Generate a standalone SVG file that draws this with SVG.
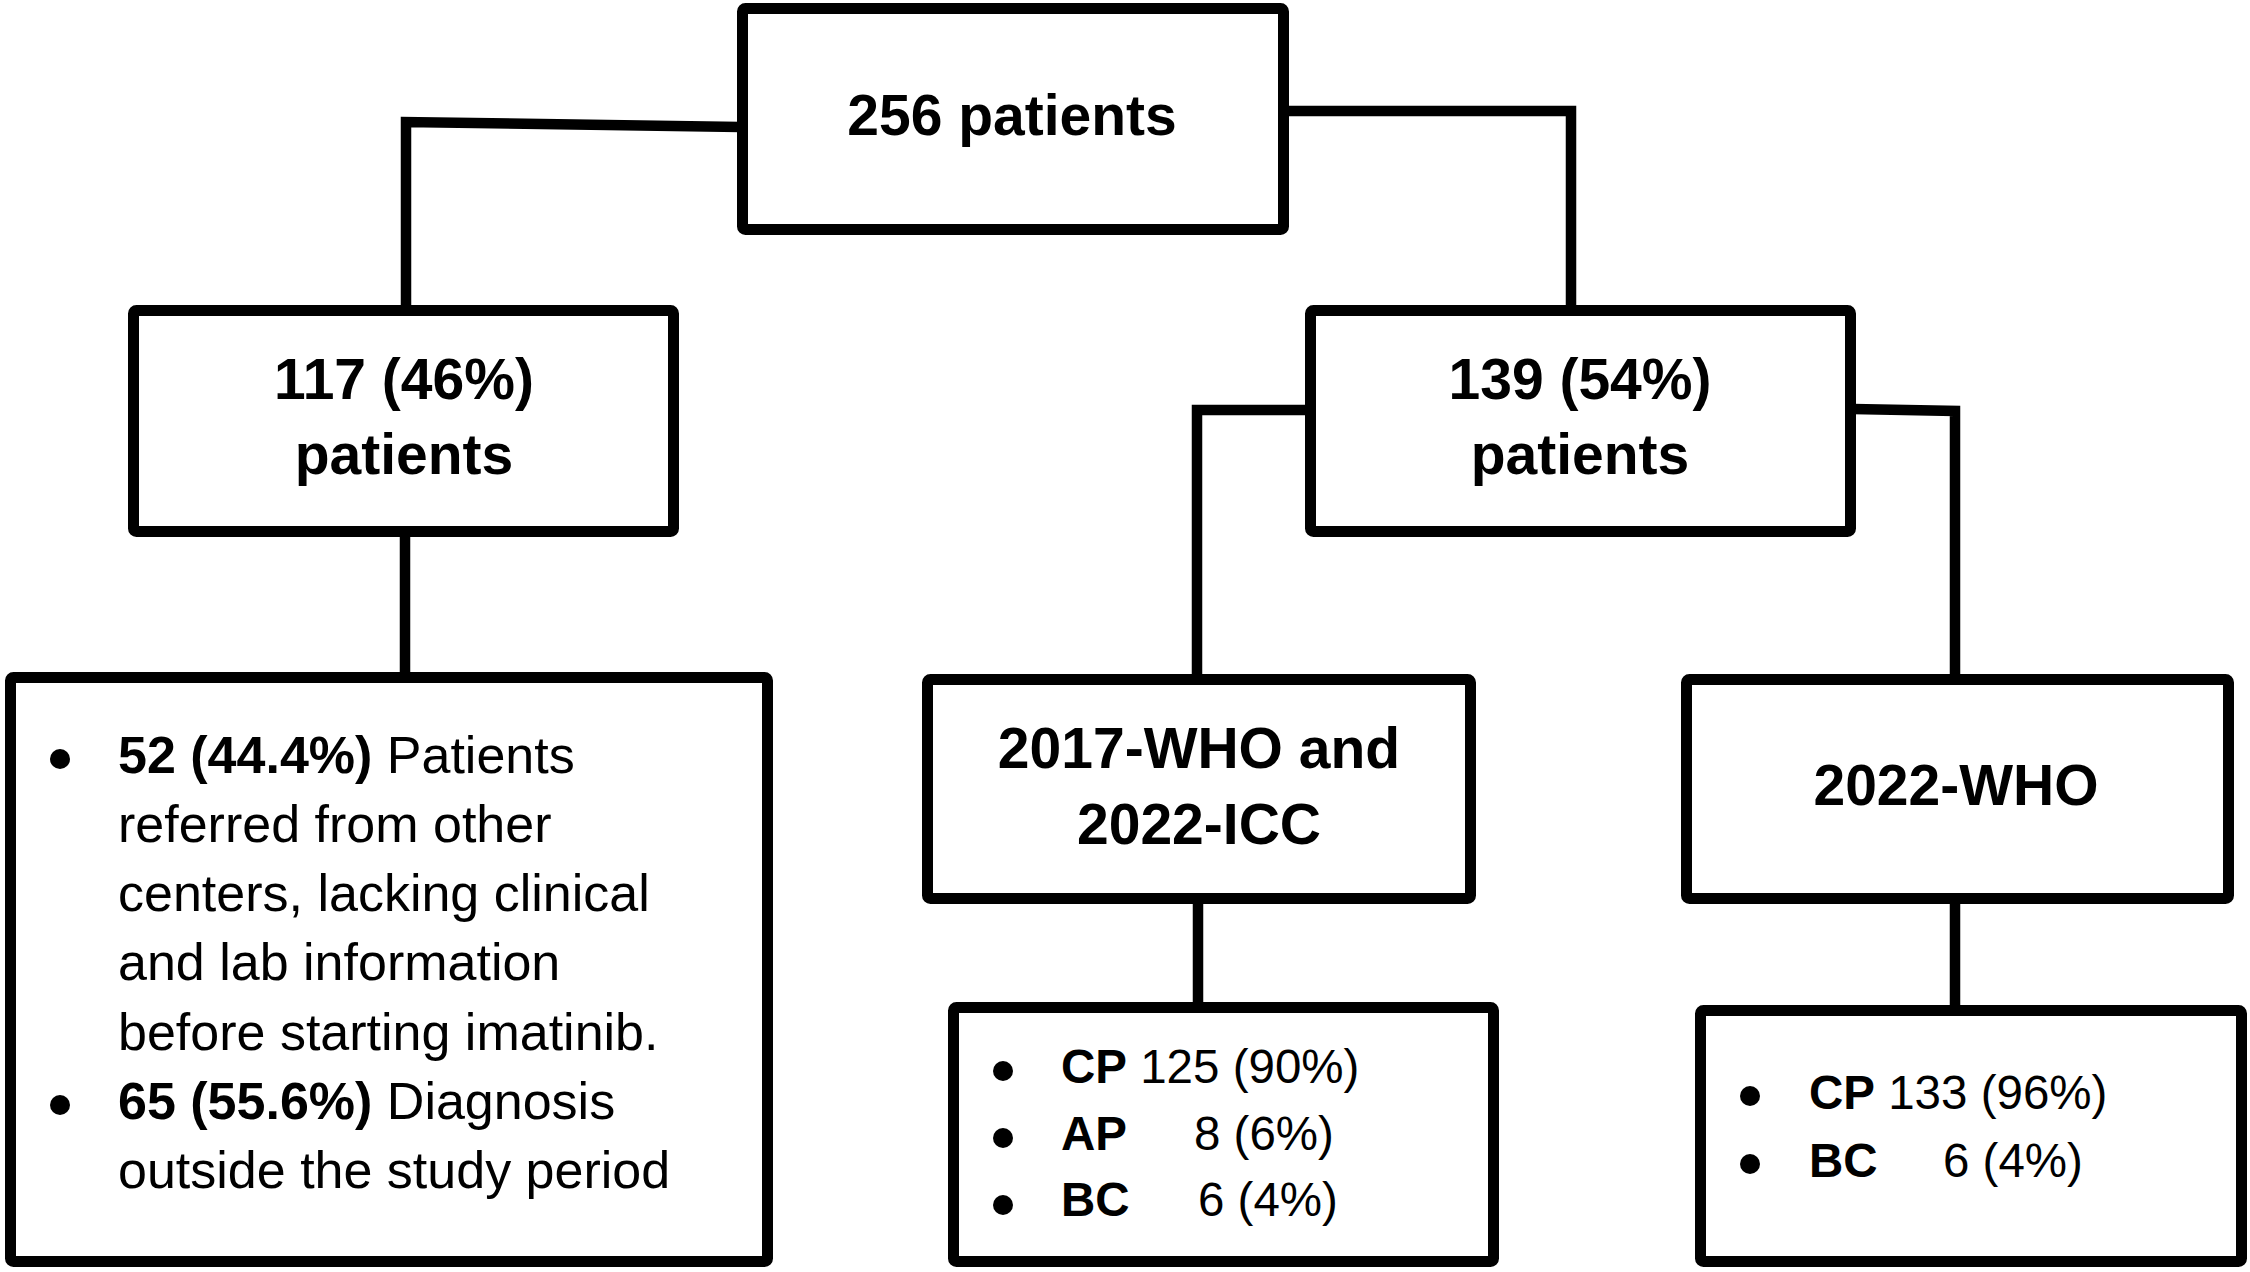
<svg xmlns="http://www.w3.org/2000/svg" width="2250" height="1272" viewBox="0 0 2250 1272">
<style>
.box{fill:#fff;stroke:#000;stroke-width:11;stroke-linejoin:round}
.ln{fill:none;stroke:#000;stroke-width:10.5;stroke-linejoin:miter;stroke-linecap:butt}
.h{font-family:"Liberation Sans",Arial,sans-serif;font-weight:bold;font-size:57px;text-anchor:middle;fill:#000}
.t{font-family:"Liberation Sans",Arial,sans-serif;font-size:52px;fill:#000}
.s{font-family:"Liberation Sans",Arial,sans-serif;font-size:47.5px;fill:#000}
.b{font-weight:bold}
.dot{fill:#000}
</style>
<rect width="2250" height="1272" fill="#fff"/>
<g id="connectors">
<path class="ln" d="M740,127 L406,122 L406,308"/>
<path class="ln" d="M1286,111 L1571,111 L1571,308"/>
<path class="ln" d="M405,534 L405,675"/>
<path class="ln" d="M1308,410 L1197,410 L1197,677"/>
<path class="ln" d="M1853,409 L1955,411 L1955,677"/>
<path class="ln" d="M1198,901 L1198,1005"/>
<path class="ln" d="M1955,901 L1955,1008"/>
</g>
<g id="n256">
<rect class="box" x="742.5" y="8.5" width="541" height="221" rx="3"/>
<text class="h" x="1012" y="135">256 patients</text>
</g>
<g id="n117">
<rect class="box" x="133.5" y="310.5" width="540" height="221" rx="3"/>
<text class="h" x="404" y="399">117 (46%)</text>
<text class="h" x="404" y="474">patients</text>
</g>
<g id="n139">
<rect class="box" x="1310.5" y="310.5" width="540" height="221" rx="3"/>
<text class="h" x="1580" y="399">139 (54%)</text>
<text class="h" x="1580" y="474">patients</text>
</g>
<g id="nExcluded">
<rect class="box" x="10.5" y="677.5" width="757" height="584" rx="3"/>
<circle class="dot" cx="60" cy="759" r="10"/>
<circle class="dot" cx="60" cy="1105" r="10"/>
<text class="t" x="118" y="773"><tspan class="b">52 (44.4%)</tspan> Patients</text>
<text class="t" x="118" y="842">referred from other</text>
<text class="t" x="118" y="911">centers, lacking clinical</text>
<text class="t" x="118" y="980">and lab information</text>
<text class="t" x="118" y="1050">before starting imatinib.</text>
<text class="t" x="118" y="1119"><tspan class="b">65 (55.6%)</tspan> Diagnosis</text>
<text class="t" x="118" y="1188">outside the study period</text>
</g>
<g id="n2017">
<rect class="box" x="927.5" y="679.5" width="543" height="219" rx="3"/>
<text class="h" x="1199" y="768">2017-WHO and</text>
<text class="h" x="1199" y="844">2022-ICC</text>
</g>
<g id="n2022">
<rect class="box" x="1686.5" y="679.5" width="542" height="219" rx="3"/>
<text class="h" x="1956" y="805">2022-WHO</text>
</g>
<g id="nPhases1">
<rect class="box" x="953.5" y="1007.5" width="540" height="254" rx="3"/>
<circle class="dot" cx="1003" cy="1071" r="10"/>
<circle class="dot" cx="1003" cy="1138" r="10"/>
<circle class="dot" cx="1003" cy="1205" r="10"/>
<text class="s" x="1061" y="1083"><tspan class="b">CP</tspan> 125 (90%)</text>
<text class="s" x="1061" y="1150"><tspan class="b">AP</tspan></text>
<text class="s" x="1194" y="1150">8 (6%)</text>
<text class="s" x="1061" y="1216"><tspan class="b">BC</tspan></text>
<text class="s" x="1198" y="1216">6 (4%)</text>
</g>
<g id="nPhases2">
<rect class="box" x="1700.5" y="1010.5" width="541" height="251" rx="3"/>
<circle class="dot" cx="1750" cy="1096" r="10"/>
<circle class="dot" cx="1750" cy="1164" r="10"/>
<text class="s" x="1809" y="1109"><tspan class="b">CP</tspan> 133 (96%)</text>
<text class="s" x="1809" y="1177"><tspan class="b">BC</tspan></text>
<text class="s" x="1943" y="1177">6 (4%)</text>
</g>
</svg>
